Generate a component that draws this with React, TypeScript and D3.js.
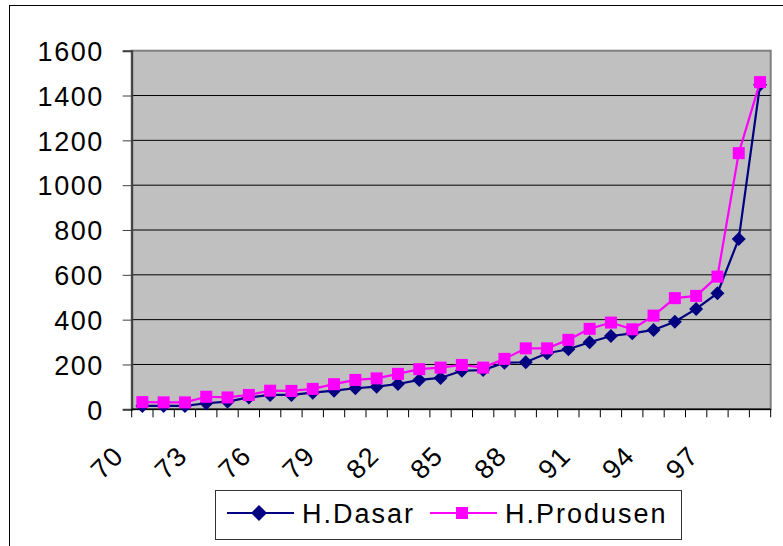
import React, { useEffect, useRef } from 'react';
import * as d3 from 'd3';

const years = d3.range(70, 100).map(String);
const dasar = [15, 15, 15, 27, 34, 53, 64, 64, 74, 83, 94, 101, 113, 131, 140, 172, 175, 208, 210, 250, 268, 299, 327, 339, 354, 391, 448, 518, 760, 1448];
const produsen = [32, 31, 31, 56, 53, 64, 83, 82, 91, 112, 131, 138, 158, 179, 186, 198, 186, 225, 272, 272, 310, 359, 387, 357, 418, 496, 506, 592, 1143, 1460];
const yTicks = [0, 200, 400, 600, 800, 1000, 1200, 1400, 1600];
const xLabels = ['70', '73', '76', '79', '82', '85', '88', '91', '94', '97'];

const FONT = "'Liberation Sans', Arial, sans-serif";

const App = () => {
  const svgRef = useRef<SVGSVGElement>(null);

  useEffect(() => {
    const svg = d3.select(svgRef.current);
    svg.selectAll('*').remove();

    const left = 131.7, right = 770.7, top = 50.7, bottom = 409.3;

    const x = d3.scaleBand().domain(years).range([left, right]).padding(0);
    const y = d3.scaleLinear().domain([0, 1600]).range([bottom, top]);
    const cx = (d: string) => (x(d) as number) + x.bandwidth() / 2;

    // chart frame
    svg.append('rect').attr('x', 9.5).attr('y', 5.5).attr('width', 790).attr('height', 560)
      .attr('fill', 'white').attr('stroke', 'black').attr('stroke-width', 1);

    // plot area
    svg.append('rect').attr('x', left).attr('y', top).attr('width', right - left).attr('height', bottom - top)
      .attr('fill', '#c0c0c0').attr('stroke', '#808080').attr('stroke-width', 2);

    // grid lines
    svg.selectAll('.grid').data(yTicks.filter(d => d > 0 && d < 1600)).enter().append('line')
      .attr('x1', left).attr('x2', right)
      .attr('y1', d => y(d)).attr('y2', d => y(d))
      .attr('stroke', 'black').attr('stroke-width', 1);

    // y axis
    const yAxis = d3.axisLeft(y).tickValues(yTicks).tickFormat(d3.format('d')).tickSize(9).tickPadding(19);
    const gy = svg.append('g').attr('transform', `translate(${left},0)`).call(yAxis);
    gy.select('.domain').attr('stroke', '#404040').attr('stroke-width', 2);
    gy.selectAll('.tick line').attr('stroke', '#404040');
    gy.selectAll('.tick text').attr('font-family', FONT).attr('font-size', 27)
      .attr('letter-spacing', 1.5).attr('fill', 'black').attr('dy', '0.36em');

    // x axis: ticks at band boundaries
    const bounds = years.map(d => x(d) as number).concat([right]);
    svg.append('line').attr('x1', left).attr('x2', right).attr('y1', bottom).attr('y2', bottom)
      .attr('stroke', 'black').attr('stroke-width', 1.5);
    svg.selectAll('.xt').data(bounds).enter().append('line')
      .attr('x1', d => d).attr('x2', d => d).attr('y1', bottom).attr('y2', bottom + 8)
      .attr('stroke', 'black').attr('stroke-width', 1);

    svg.selectAll('.xl').data(xLabels).enter().append('text')
      .attr('transform', d => `translate(${cx(d) - 17},${bottom + 48}) rotate(-45)`)
      .attr('text-anchor', 'end')
      .attr('font-family', FONT).attr('font-size', 27).attr('letter-spacing', 1.5)
      .text(d => d);

    // lines
    const line = d3.line<number>().x((_, i) => cx(years[i])).y(d => y(d));
    svg.append('path').datum(dasar).attr('d', line).attr('fill', 'none')
      .attr('stroke', '#000080').attr('stroke-width', 2.2);
    const diamond = (g: any, px: number, py: number, r: number) =>
      g.append('path').attr('d', `M${px},${py - r}L${px + r},${py}L${px},${py + r}L${px - r},${py}Z`).attr('fill', '#000080');
    dasar.forEach((v, i) => diamond(svg, cx(years[i]), y(v), 7));

    svg.append('path').datum(produsen).attr('d', line).attr('fill', 'none')
      .attr('stroke', '#ff00ff').attr('stroke-width', 2.2);
    svg.selectAll('.sq').data(produsen).enter().append('rect')
      .attr('x', (_, i) => cx(years[i]) - 6).attr('y', d => y(d) - 6)
      .attr('width', 12).attr('height', 12).attr('fill', '#ff00ff');

    // legend
    const lg = svg.append('g');
    lg.append('rect').attr('x', 215.5).attr('y', 490.5).attr('width', 466).attr('height', 49)
      .attr('fill', 'white').attr('stroke', '#333').attr('stroke-width', 1);
    const ly = 513;
    lg.append('line').attr('x1', 227).attr('x2', 294).attr('y1', ly).attr('y2', ly).attr('stroke', '#000080').attr('stroke-width', 2);
    diamond(lg, 259, ly, 8);
    lg.append('text').attr('x', 302).attr('y', ly + 10).attr('font-family', FONT).attr('font-size', 27)
      .attr('letter-spacing', 2).text('H.Dasar');
    lg.append('line').attr('x1', 430).attr('x2', 497).attr('y1', ly).attr('y2', ly).attr('stroke', '#ff00ff').attr('stroke-width', 2);
    lg.append('rect').attr('x', 456).attr('y', ly - 6).attr('width', 12).attr('height', 12).attr('fill', '#ff00ff');
    lg.append('text').attr('x', 505).attr('y', ly + 10).attr('font-family', FONT).attr('font-size', 27)
      .attr('letter-spacing', 2).text('H.Produsen');
  }, []);

  return (
    <svg ref={svgRef} width={783} height={546}
      style={{ position: 'absolute', left: 0, top: 0, background: 'white' }} />
  );
};

export default App;
